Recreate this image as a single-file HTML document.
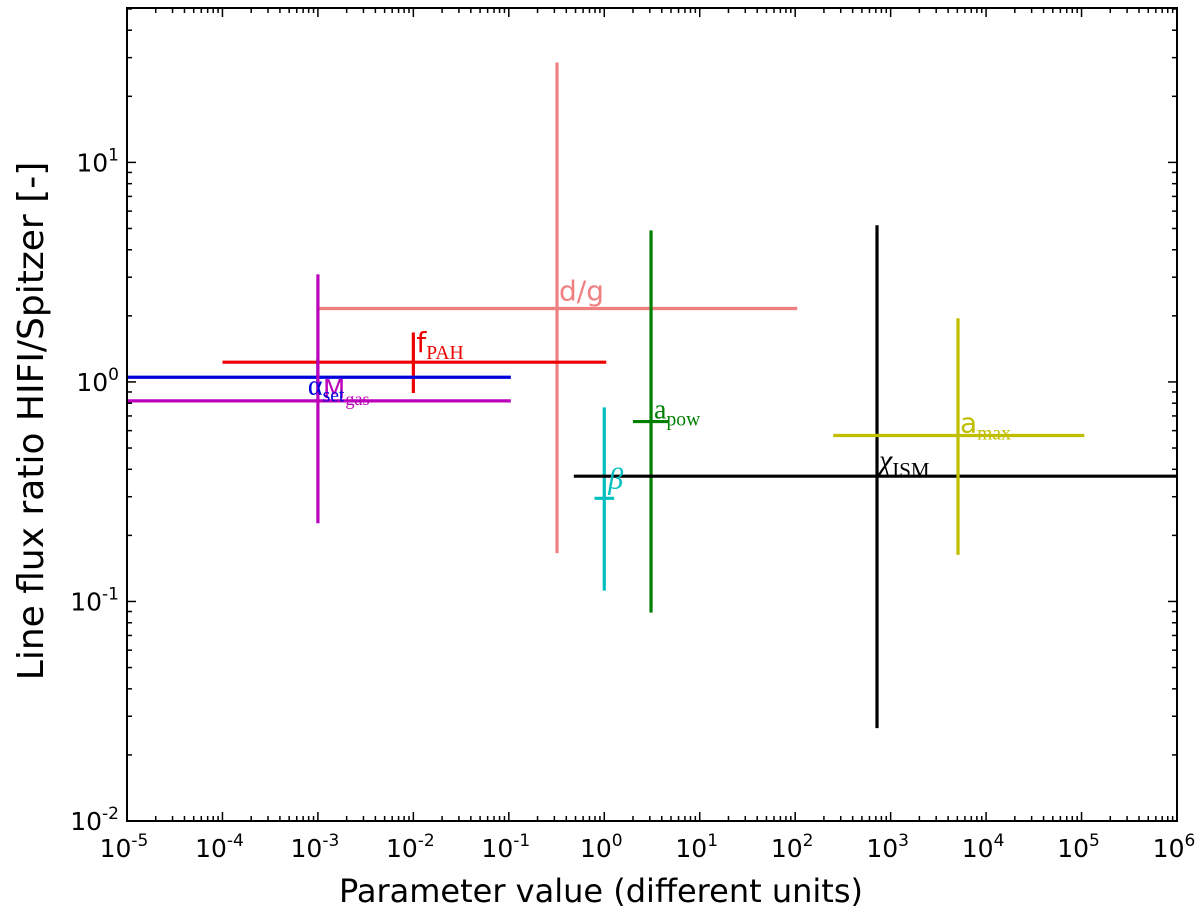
<!DOCTYPE html>
<html><head><meta charset="utf-8">
<style>
html,body{margin:0;padding:0;background:#fff;}
svg{display:block;font-family:"DejaVu Sans","Liberation Sans",sans-serif;}
</style></head>
<body>
<svg id="chart" width="1200" height="914" viewBox="0 0 1200 914"></svg>
<script>
const seriesNames = ["d/g","fPAH","alpha_set","M_gas","beta","a_pow","chi_ISM","a_max"];
const seriesColors = ["#f08080","#ee0000","#0000dd","#bb00bb","#00bfbf","#007f00","#000000","#bfbf00"];
const centerX = [0.32, 0.01, 0.001, 0.001, 1.0, 3.09, 720, 5080];
const centerY = [2.16, 1.23, 1.05, 0.82, 0.295, 0.66, 0.372, 0.57];
const xLow  = [0.001, 1.0e-4, 1e-6, 1e-6, 0.79, 2.0, 0.48, 250];
const xHigh = [105, 1.05, 0.105, 0.105, 1.27, 4.7, 1e7, 1.07e5];
const yLow  = [0.166, 0.89, 0.87, 0.227, 0.112, 0.089, 0.0265, 0.163];
const yHigh = [28.5, 1.68, 1.28, 3.09, 0.766, 4.9, 5.17, 1.95];
const xTickExp = [-5,-4,-3,-2,-1,0,1,2,3,4,5,6];
const yTickExp = [-2,-1,0,1];

const L=127,R=1177,T=8,B=821;
const xMin=-5,xMax=6,yMin=-2,yMax=Math.log10(50.5);
function sx(v){return L+(Math.log10(v)-xMin)/(xMax-xMin)*(R-L);}
function sy(v){return B-(Math.log10(v)-yMin)/(yMax-yMin)*(B-T);}
const NS="http://www.w3.org/2000/svg";
const svg=document.getElementById('chart');
function el(tag,attrs,parent){const e=document.createElementNS(NS,tag);for(const k in attrs)e.setAttribute(k,attrs[k]);(parent||svg).appendChild(e);return e;}

const defs=el('defs',{});
const cp=el('clipPath',{id:'clip'},defs);
el('rect',{x:L,y:T,width:R-L,height:B-T},cp);
const g=el('g',{'clip-path':'url(#clip)'});



for(let i=0;i<seriesNames.length;i++){
  const h=el('line',{x1:sx(xLow[i]),x2:sx(xHigh[i]),y1:sy(centerY[i]),y2:sy(centerY[i]),stroke:seriesColors[i],'stroke-width':3.2},g);
  
  
  const v=el('line',{x1:sx(centerX[i]),x2:sx(centerX[i]),y1:sy(yLow[i]),y2:sy(yHigh[i]),stroke:seriesColors[i],'stroke-width':3.2},g);
  
  
}

function lab(i,dx,dy,main,sub,size,style,fam){
  const t=el('text',{x:sx(centerX[i])+dx,y:sy(centerY[i])+dy,fill:seriesColors[i],'font-size':size});
  if(style)t.setAttribute('font-style',style);
  if(fam)t.setAttribute('font-family',fam);
  
  
  const a=el('tspan',{},t);a.textContent=main;
  if(sub){const b=el('tspan',{dy:7,'font-size':size*0.7,'font-family':'"Liberation Serif",serif','font-style':'normal'},t);b.textContent=sub;}
}
lab(0,2,-8,"d/g","",28);
lab(1,3,-10,"f","PAH",28);
lab(3,5,-3,"M","gas",26);
lab(2,-10,17,"α","set",28,null,'"Liberation Serif",serif');
lab(4,4,-10,"β","",30,"italic",'"Liberation Serif",serif');
lab(5,3,-3,"a","pow",28,null,'"Liberation Serif",serif');
lab(6,2,-6,"χ","ISM",30,"italic",'"Liberation Serif",serif');
lab(7,2,-3,"a","max",28);

const fr=el('rect',{x:L,y:T,width:R-L,height:B-T,fill:'none',stroke:'#000','stroke-width':2});



const tg=el('g',{stroke:'#000','stroke-width':1.5});
for(let e=xMin;e<=xMax;e++){
  const x=sx(Math.pow(10,e));
  el('line',{x1:x,x2:x,y1:B,y2:B-9},tg);el('line',{x1:x,x2:x,y1:T,y2:T+9},tg);
  if(e<xMax)for(let m=2;m<10;m++){const xm=sx(m*Math.pow(10,e));el('line',{x1:xm,x2:xm,y1:B,y2:B-5},tg);el('line',{x1:xm,x2:xm,y1:T,y2:T+5},tg);}
}
for(let e=yMin;e<=2;e++){
  if(e<=1){const y=sy(Math.pow(10,e));el('line',{x1:L,x2:L+9,y1:y,y2:y},tg);el('line',{x1:R,x2:R-9,y1:y,y2:y},tg);}
  for(let m=2;m<10;m++){const v=m*Math.pow(10,e);if(Math.log10(v)>yMax)break;const y=sy(v);el('line',{x1:L,x2:L+5,y1:y,y2:y},tg);el('line',{x1:R,x2:R-5,y1:y,y2:y},tg);}
}
xTickExp.forEach(e=>{
  const t=el('text',{x:sx(Math.pow(10,e))-3,y:B+36,'text-anchor':'middle','font-size':25});
  
  
  const a=el('tspan',{},t);a.textContent='10';
  const b=el('tspan',{dy:-11,'font-size':17},t);b.textContent=String(e);
});
yTickExp.forEach(e=>{
  const t=el('text',{x:L-8,y:sy(Math.pow(10,e))+9,'text-anchor':'end','font-size':25});
  
  
  const a=el('tspan',{},t);a.textContent='10';
  const b=el('tspan',{dy:-11,'font-size':17},t);b.textContent=String(e);
});
const xt=el('text',{x:601,y:902,'text-anchor':'middle','font-size':32});
xt.textContent='Parameter value (different units)';


const yt=el('text',{x:0,y:0,'text-anchor':'middle','font-size':36,transform:'translate(43,421) rotate(-90)'});
yt.textContent='Line flux ratio HIFI/Spitzer [-]';


</script>
</body></html>
